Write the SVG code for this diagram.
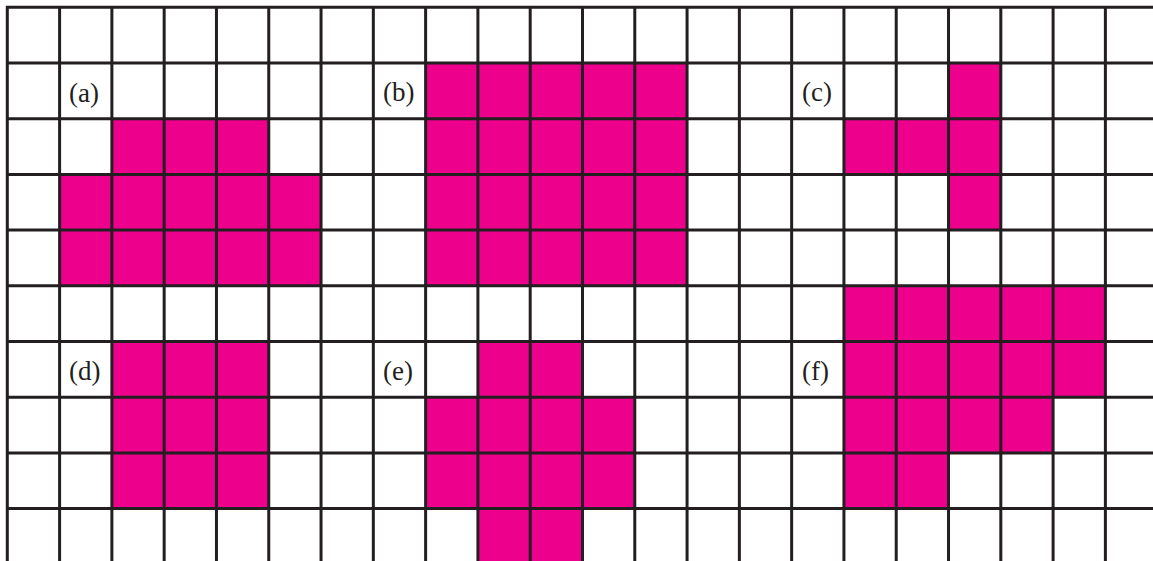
<svg xmlns="http://www.w3.org/2000/svg" width="1153" height="561" viewBox="0 0 1153 561">
<style>
.f{fill:#ec008c}
.g{stroke:#231f20;stroke-width:3;fill:none}
.t{font-family:"Liberation Serif","Times New Roman",serif;font-size:27px;fill:#231f20}
</style>
<rect width="1153" height="561" fill="#ffffff"/>
<g id="shape-a">
<rect class="f" x="111.88" y="118.7" width="156.87" height="55.7"/>
<rect class="f" x="59.59" y="174.4" width="261.45" height="111.4"/>
<text class="t" x="69" y="102">(a)</text>
</g>
<g id="shape-b">
<rect class="f" x="425.62" y="63" width="261.45" height="222.8"/>
<text class="t" x="383" y="101">(b)</text>
</g>
<g id="shape-c">
<rect class="f" x="948.52" y="63" width="52.29" height="167.1"/>
<rect class="f" x="843.94" y="118.7" width="104.58" height="55.7"/>
<text class="t" x="802" y="101">(c)</text>
</g>
<g id="shape-d">
<rect class="f" x="111.88" y="341.5" width="156.87" height="167.1"/>
<text class="t" x="69" y="380">(d)</text>
</g>
<g id="shape-e">
<rect class="f" x="477.91" y="341.5" width="104.58" height="219.5"/>
<rect class="f" x="425.62" y="397.2" width="209.16" height="111.4"/>
<text class="t" x="383" y="380">(e)</text>
</g>
<g id="shape-f">
<rect class="f" x="843.94" y="285.8" width="261.45" height="111.4"/>
<rect class="f" x="843.94" y="397.2" width="209.16" height="55.7"/>
<rect class="f" x="843.94" y="452.9" width="104.58" height="55.7"/>
<text class="t" x="802" y="380">(f)</text>
</g>
<g id="grid">
<path class="g" d="M6 7.3H1153M6 63H1153M6 118.7H1153M6 174.4H1153M6 230.1H1153M6 285.8H1153M6 341.5H1153M6 397.2H1153M6 452.9H1153M6 508.6H1153"/>
<path class="g" d="M7.3 6V561M59.59 6V561M111.88 6V561M164.17 6V561M216.46 6V561M268.75 6V561M321.04 6V561M373.33 6V561M425.62 6V561M477.91 6V561M530.2 6V561M582.49 6V561M634.78 6V561M687.07 6V561M739.36 6V561M791.65 6V561M843.94 6V561M896.23 6V561M948.52 6V561M1000.81 6V561M1053.1 6V561M1105.39 6V561"/>
</g>
</svg>
